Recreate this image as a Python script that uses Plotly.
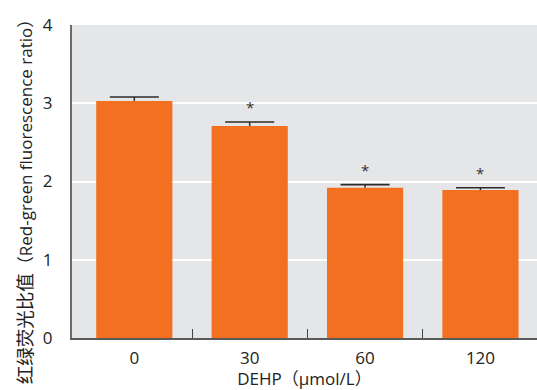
import plotly.graph_objects as go

categories = ["0", "30", "60", "120"]
values = [3.03, 2.71, 1.92, 1.89]
errors = [0.05, 0.05, 0.04, 0.03]
significant = [False, True, True, True]
y_ticks = [0, 1, 2, 3, 4]

xpos = list(range(len(categories)))
orange = "#f37021"
err_color = "#2b2b2b"
font_family = "Open Sans, Noto Sans CJK SC, sans-serif"

fig = go.Figure()
fig.add_trace(go.Bar(
    x=xpos, y=values, width=0.66,
    marker=dict(color=orange, line=dict(width=0)),
    error_y=dict(type="data", array=errors, arrayminus=[0] * len(errors),
                 symmetric=False, color=err_color, thickness=1.5, width=0),
    showlegend=False, hoverinfo="skip",
))
# error bar caps (top only)
fig.add_trace(go.Scatter(
    x=xpos, y=[v + e for v, e in zip(values, errors)], mode="markers",
    marker=dict(symbol="line-ew-open", size=35, color=err_color,
                line=dict(color=err_color, width=1.6)),
    showlegend=False, hoverinfo="skip", cliponaxis=False,
))
# invisible trace on secondary axis for boundary ticks
fig.add_trace(go.Scatter(x=[0.5, 1.5, 2.5], y=[0, 0, 0], xaxis="x2", mode="markers",
                         marker=dict(opacity=0), showlegend=False, hoverinfo="skip"))

for i, (v, e, s) in enumerate(zip(values, errors, significant)):
    if s:
        fig.add_annotation(x=i, y=v + e, text="*", showarrow=False,
                           yanchor="bottom", yshift=3,
                           font=dict(size=15, color="#333333", family=font_family))

# y-axis title
fig.add_annotation(
    xref="paper", yref="paper", x=-0.103, y=0.45, xanchor="center", yanchor="middle",
    textangle=-90, showarrow=False,
    text="<span style='font-size:18.5px'>红绿荧光比值</span>（Red-green fluorescence ratio）",
    font=dict(size=17, color="#222222", family=font_family),
)

xr = [-0.54, 3.49]
fig.update_layout(
    width=537, height=390,
    margin=dict(l=72, r=0, t=25, b=52),
    paper_bgcolor="white", plot_bgcolor="#e5e6e8",
    font=dict(family=font_family, size=17, color="#222222"),
    bargap=0.34,
    xaxis=dict(
        range=xr, tickvals=xpos, ticktext=categories, ticks="",
        showgrid=False, zeroline=False,
        showline=True, linecolor="#5a5a5a", linewidth=1.5,
        tickfont=dict(size=17, color="#222222"), ticklabelstandoff=4,
        title=dict(text="DEHP（μmol/L）", font=dict(size=17), standoff=8),
    ),
    xaxis2=dict(
        range=xr, overlaying="x", side="bottom", anchor="y",
        tickvals=[0.5, 1.5, 2.5], ticks="inside", ticklen=9, tickwidth=1,
        tickcolor="#444444", showticklabels=False, showgrid=False,
        zeroline=False, showline=False,
    ),
    yaxis=dict(
        range=[0, 4], tickvals=y_ticks, ticks="",
        showgrid=True, gridcolor="white", gridwidth=1.5,
        zeroline=False, showline=True, linecolor="#6a6a6a", linewidth=2,
        tickfont=dict(size=17, color="#222222"), ticklabelstandoff=14,
    ),
)

fig.write_html("out.html")
